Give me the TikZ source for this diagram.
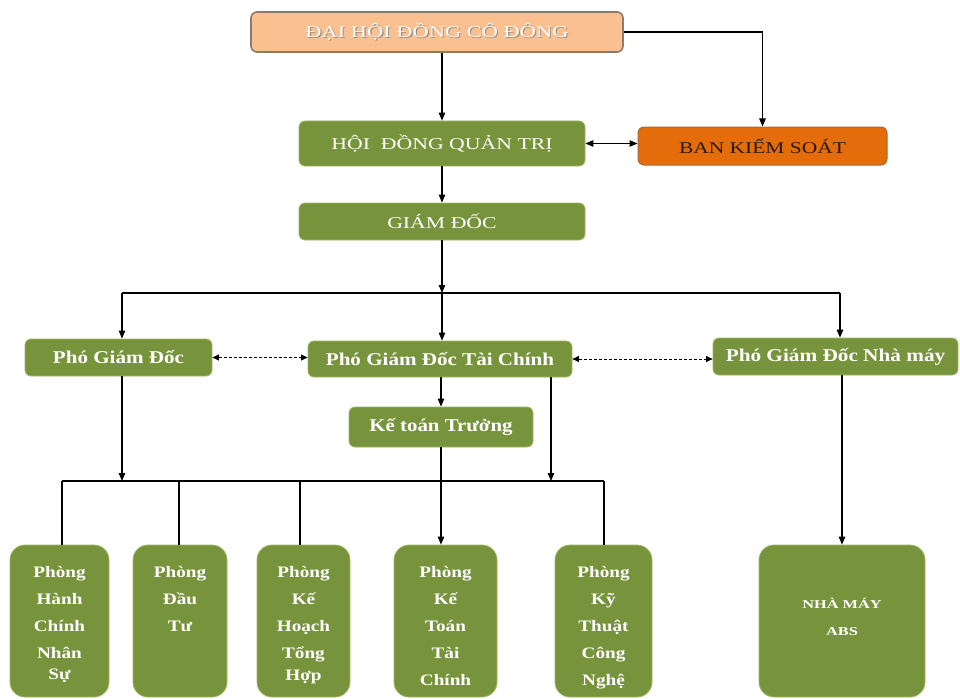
\documentclass[tikz,border=0pt]{standalone}
\usepackage{fontspec}
\setmainfont{Liberation Serif}
\usetikzlibrary{arrows.meta}
\definecolor{ogreen}{HTML}{77933C}
\definecolor{gedge}{HTML}{9CB860}
\definecolor{peach}{HTML}{FAC090}
\definecolor{peachedge}{HTML}{8C7B6B}
\definecolor{orng}{HTML}{E46C0A}
\definecolor{orngedge}{HTML}{A86A3C}
\definecolor{darktxt}{HTML}{2A1A0A}
\definecolor{shadowc}{HTML}{9A8A7A}
\newcommand{\sx}[2]{\scalebox{#1}[1]{#2}}
\newcommand{\shd}[1]{\makebox[0pt][l]{\raisebox{-0.8pt}{\hspace{0.8pt}\color{shadowc}#1}}{\color{white}#1}}
\tikzset{
  gbox/.style={fill=ogreen, draw=gedge, line width=0.8pt, rounded corners=6pt, text=white, inner sep=0pt},
  capf/.style={font=\fontsize{16.5}{18}\selectfont},
  midf/.style={font=\bfseries\fontsize{18}{20}\selectfont},
  bbox/.style={fill=ogreen, draw=gedge, line width=0.8pt, rounded corners=15pt, text=white, inner sep=0pt, font=\bfseries\fontsize{16}{27}\selectfont},
  conn/.style={line width=1.1pt, black},
  arr/.style={conn, -{Triangle[length=8pt,width=6.5pt]}},
  arrtwo/.style={conn, {Triangle[length=8pt,width=6.5pt]}-{Triangle[length=8pt,width=6.5pt]}},
  darr/.style={conn, line width=0.9pt, dash pattern=on 3pt off 2pt, {Triangle[length=6.5pt,width=6pt]}-{Triangle[length=6.5pt,width=6pt]}}
}
\begin{document}
\begin{tikzpicture}[x=1pt,y=-1pt]
\useasboundingbox (0,0) rectangle (960,698);
% top
\node[fill=peach, draw=peachedge, line width=1.6pt, rounded corners=6pt, inner sep=0pt, capf, minimum width=372pt, minimum height=40pt] (dh) at (437,32) {\sx{1.36}{\shd{ĐẠI HỘI ĐỒNG CÔ ĐÔNG}}};
\node[gbox, capf, minimum width=286pt, minimum height=45pt] (hdqt) at (442,143.5) {\sx{1.32}{HỘI\ \ ĐỒNG QUẢN TRỊ}};
\node[fill=orng, draw=orngedge, line width=1pt, rounded corners=6pt, inner sep=0pt, capf, text=darktxt, minimum width=249pt, minimum height=38pt] (bks) at (762.5,146) {\sx{1.3}{BAN KIỂM SOÁT}};
\node[gbox, capf, minimum width=286pt, minimum height=37pt] (gd) at (442,221.5) {\sx{1.32}{GIÁM ĐỐC}};
% deputies
\node[gbox, midf, minimum width=187pt, minimum height=37pt] (pgd) at (118.5,357.5) {\sx{1.17}{Phó Giám Đốc}};
\node[gbox, midf, minimum width=264pt, minimum height=36pt] (pgdtc) at (440,359) {\sx{1.17}{Phó Giám Đốc Tài Chính}};
\node[gbox, midf, minimum width=245pt, minimum height=37pt] (pgdnm) at (835.5,356.5) {\sx{1.18}{Phó Giám Đốc Nhà máy}};
\node[gbox, midf, minimum width=184pt, minimum height=40pt] (ktt) at (441,427) {\sx{1.16}{Kế toán Trưởng}};
% departments
\node[bbox] (p1) at (59.5,621) {\parbox[c][152pt][t]{99pt}{\centering\vspace*{21pt}\sx{1.2}{Phòng}\\\sx{1.2}{Hành}\\\sx{1.2}{Chính}\\\sx{1.2}{Nhân}\\[-6pt]\sx{1.2}{Sự}}};
\node[bbox] (p2) at (180,621) {\parbox[c][152pt][t]{94pt}{\centering\vspace*{21pt}\sx{1.2}{Phòng}\\\sx{1.2}{Đầu}\\\sx{1.2}{Tư}}};
\node[bbox] (p3) at (303.5,621) {\parbox[c][152pt][t]{93pt}{\centering\vspace*{21pt}\sx{1.2}{Phòng}\\\sx{1.2}{Kế}\\\sx{1.2}{Hoạch}\\\sx{1.2}{Tổng}\\[-5pt]\sx{1.2}{Hợp}}};
\node[bbox] (p4) at (445.5,621) {\parbox[c][152pt][t]{103pt}{\centering\vspace*{21pt}\sx{1.2}{Phòng}\\\sx{1.2}{Kế}\\\sx{1.2}{Toán}\\\sx{1.2}{Tài}\\\sx{1.2}{Chính}}};
\node[bbox] (p5) at (603.5,621) {\parbox[c][152pt][t]{97pt}{\centering\vspace*{21pt}\sx{1.2}{Phòng}\\\sx{1.2}{Kỹ}\\\sx{1.2}{Thuật}\\\sx{1.2}{Công}\\\sx{1.2}{Nghệ}}};
\node[bbox, font=\bfseries\fontsize{12}{27}\selectfont] (nm) at (842,621) {\parbox[c][152pt][t]{166pt}{\centering\vspace*{53pt}\sx{1.36}{NHÀ MÁY}\\\sx{1.36}{ABS}}};
% connectors top
\draw[arr] (hdqt.north |- dh.south) -- (hdqt.north);
\draw[arr] (dh.east) -| (bks.north);
\draw[arrtwo] (hdqt.east) -- (hdqt.east -| bks.west);
\draw[arr] (hdqt.south) -- (gd.north);
\coordinate (bus1) at (442,293);
\coordinate (bus1l) at (122,293);
\coordinate (bus1r) at (840,293);
\draw[arr] (gd.south) -- (bus1);
\draw[conn] (bus1l) -- (bus1r);
\draw[arr] (bus1l) -- (bus1l |- pgd.north);
\draw[arr] (bus1) -- (bus1 |- pgdtc.north);
\draw[arr] (bus1r) -- (bus1r |- pgdnm.north);
\draw[darr] (pgd.east) -- (pgd.east -| pgdtc.west);
\draw[darr] (pgdtc.east) -- (pgdtc.east -| pgdnm.west);
\draw[arr] (pgdtc.south -| ktt.north) -- (ktt.north);
% bus 2
\coordinate (b2a) at (122,481);
\coordinate (b2b) at (551,481);
\coordinate (b2l) at (62,481);
\coordinate (b2r) at (604,481);
\coordinate (b2c) at (179,481);
\coordinate (b2d) at (300,481);
\draw[arr] (b2a |- pgd.south) -- (b2a);
\draw[arr] (b2b |- pgdtc.south) -- (b2b);
\draw[conn] (b2l) -- (b2r);
\draw[conn] (b2l) -- (b2l |- p1.north);
\draw[conn] (b2c) -- (b2c |- p2.north);
\draw[conn] (b2d) -- (b2d |- p3.north);
\draw[conn] (b2r) -- (b2r |- p5.north);
\draw[arr] (ktt.south) -- (ktt.south |- p4.north);
\draw[arr] (pgdnm.south -| nm.north) -- (nm.north);
\end{tikzpicture}
\end{document}
